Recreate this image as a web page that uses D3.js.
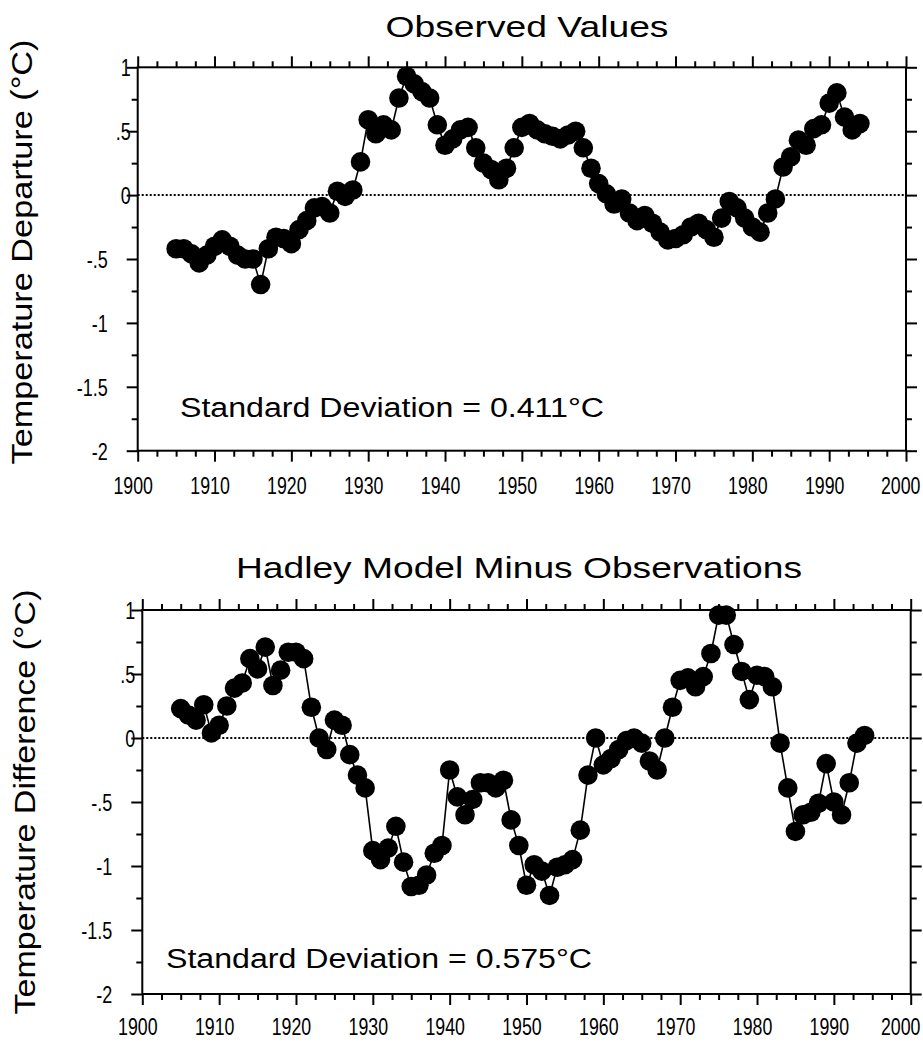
<!DOCTYPE html>
<html><head><meta charset="utf-8">
<script src="https://cdn.jsdelivr.net/npm/d3@7"></script>
<style>
html,body{margin:0;padding:0;background:#fff;}
svg{display:block;}
text{font-family:"Liberation Sans",Arial,Helvetica,sans-serif;fill:#000;}
</style></head>
<body>
<svg id="chart" width="923" height="1042"></svg>
<script>
// ---- data ----
const yearsObserved = d3.range(1905, 1995);
const observed = [
 -0.42,-0.42,-0.46,-0.53,-0.47,-0.40,-0.35,-0.40,-0.47,-0.50,
 -0.50,-0.70,-0.42,-0.33,-0.34,-0.38,-0.27,-0.20,-0.10,-0.09,
 -0.14,0.03,-0.01,0.04,0.26,0.59,0.48,0.55,0.51,0.76,
 0.93,0.87,0.81,0.76,0.55,0.39,0.44,0.51,0.53,0.37,
 0.25,0.20,0.12,0.21,0.37,0.53,0.56,0.51,0.48,0.46,
 0.44,0.47,0.50,0.37,0.21,0.09,0.01,-0.07,-0.03,-0.14,
 -0.20,-0.16,-0.22,-0.29,-0.35,-0.34,-0.31,-0.25,-0.22,-0.27,
 -0.33,-0.18,-0.05,-0.10,-0.18,-0.25,-0.29,-0.14,-0.03,0.22,
 0.30,0.43,0.39,0.52,0.55,0.72,0.80,0.61,0.51,0.56
];
const yearsDiff = d3.range(1905, 1995);
const difference = [
 0.23,0.18,0.14,0.26,0.04,0.10,0.25,0.39,0.43,0.62,
 0.54,0.71,0.41,0.53,0.67,0.67,0.62,0.24,0.00,-0.09,
 0.14,0.10,-0.13,-0.29,-0.39,-0.88,-0.95,-0.86,-0.69,-0.97,
 -1.16,-1.15,-1.07,-0.90,-0.84,-0.25,-0.46,-0.60,-0.48,-0.35,
 -0.35,-0.39,-0.33,-0.64,-0.84,-1.15,-0.99,-1.04,-1.23,-1.01,
 -0.99,-0.95,-0.72,-0.29,0.00,-0.21,-0.16,-0.09,-0.02,0.00,
 -0.04,-0.18,-0.25,0.00,0.24,0.45,0.47,0.40,0.48,0.66,
 0.96,0.96,0.73,0.52,0.30,0.49,0.48,0.40,-0.04,-0.39,
 -0.73,-0.60,-0.58,-0.51,-0.20,-0.50,-0.60,-0.35,-0.04,0.02
];
const xTickValues = d3.range(1900, 2001, 10);
const yTickValues = [1, 0.5, 0, -0.5, -1, -1.5, -2];
const yTickLabels = ["1", ".5", "0", "-.5", "-1", "-1.5", "-2"];
const titles = ["Observed Values", "Hadley Model Minus Observations"];
const yTitles = ["Temperature Departure (\u00B0C)", "Temperature Difference (\u00B0C)"];
const sdNotes = ["Standard Deviation =  0.411\u00B0C", "Standard Deviation =  0.575\u00B0C"];

const svg = d3.select("#chart");
const W = 923;
const SQUEEZE = 0.74;

function panel(cfg) {
  const x = d3.scaleLinear().domain([1900, 2000]).range([cfg.left, cfg.right]);
  const y = d3.scaleLinear().domain([-2, 1]).range([cfg.bottom, cfg.top]);
  const g = svg.append("g");

  g.append("rect").attr("x", cfg.left).attr("y", cfg.top)
    .attr("width", cfg.right - cfg.left).attr("height", cfg.bottom - cfg.top)
    .attr("fill", "none").attr("stroke", "#000").attr("stroke-width", 2);

  const minorX = d3.range(1900, 2000.1, 2.5).filter(v => v % 10 !== 0);
  const minorY = d3.range(-2, 1.01, 0.25).filter(v => Math.abs(v * 2 - Math.round(v * 2)) > 1e-6);

  function styleAxis(a) {
    a.select(".domain").remove();
    a.selectAll(".tick line").attr("stroke", "#000").attr("stroke-width", 2);
  }
  [[d3.axisBottom, cfg.bottom], [d3.axisTop, cfg.top]].forEach(([fn, pos], i) => {
    const aMaj = g.append("g").attr("transform", `translate(0,${pos})`)
      .call(fn(x).tickValues(xTickValues).tickSize(11).tickFormat(i === 0 ? d3.format("d") : ""));
    styleAxis(aMaj);
    const aMin = g.append("g").attr("transform", `translate(0,${pos})`)
      .call(fn(x).tickValues(minorX).tickSize(6).tickFormat(""));
    styleAxis(aMin);
    if (i === 0) {
      const txt = aMaj.selectAll(".tick text").attr("font-size", 24).attr("x", 0).attr("y", 0).attr("dy", 0);
      txt.each(function (d) {
        const half = this.getComputedTextLength() * SQUEEZE / 2;
        const shift = Math.min(-5, (W - 3 - half) - x(d));
        d3.select(this).attr("transform", `translate(${shift},${cfg.labelOffset}) scale(${SQUEEZE},1)`);
      });
    }
  });
  [[d3.axisLeft, cfg.left], [d3.axisRight, cfg.right]].forEach(([fn, pos], i) => {
    const aMaj = g.append("g").attr("transform", `translate(${pos},0)`)
      .call(fn(y).tickValues(yTickValues).tickSize(11)
        .tickFormat(i === 0 ? ((d, k) => yTickLabels[k]) : ""));
    styleAxis(aMaj);
    const aMin = g.append("g").attr("transform", `translate(${pos},0)`)
      .call(fn(y).tickValues(minorY).tickSize(6).tickFormat(""));
    styleAxis(aMin);
    if (i === 0) {
      aMaj.selectAll(".tick text").attr("font-size", 24).attr("dy", "0.36em").attr("x", 0)
        .attr("transform", d => `translate(${d >= 0 ? -7 : -30},0) scale(0.75,1)`);
    }
  });

  g.append("line").attr("x1", cfg.left).attr("x2", cfg.right)
    .attr("y1", y(0)).attr("y2", y(0))
    .attr("stroke", "#000").attr("stroke-width", 2).attr("stroke-dasharray", "2,2");

  const pts = cfg.years.map((yr, i) => ({ yr, v: cfg.values[i] }));
  g.append("path").datum(pts)
    .attr("d", d3.line().x(d => x(d.yr)).y(d => y(d.v)))
    .attr("fill", "none").attr("stroke", "#000").attr("stroke-width", 1.6);
  g.selectAll("circle.pt").data(pts).enter().append("circle")
    .attr("cx", d => x(d.yr)).attr("cy", d => y(d.v)).attr("r", 9.8).attr("fill", "#000");

  g.append("text").attr("x", cfg.titleX).attr("y", cfg.titleY)
    .attr("text-anchor", "middle").attr("font-size", 30).text(cfg.title)
    .attr("textLength", cfg.titleW).attr("lengthAdjust", "spacingAndGlyphs");

  g.append("text").attr("transform", `translate(${cfg.yTitleX},${cfg.yTitleY}) rotate(-90)`)
    .attr("text-anchor", "middle").attr("font-size", 29).text(cfg.yTitle)
    .attr("textLength", cfg.yTitleW).attr("lengthAdjust", "spacingAndGlyphs");

  g.append("text").attr("x", cfg.sdX).attr("y", cfg.sdY).attr("font-size", 27)
    .text(cfg.sd).attr("textLength", cfg.sdW).attr("lengthAdjust", "spacingAndGlyphs");
}

panel({
  left: 137.7, right: 906, top: 67.3, bottom: 450.7, labelOffset: 43,
  years: yearsObserved, values: observed,
  title: titles[0], titleX: 527, titleY: 37, titleW: 283,
  yTitle: yTitles[0], yTitleX: 32, yTitleY: 252, yTitleW: 425,
  sd: sdNotes[0], sdX: 180, sdY: 417, sdW: 424
});
panel({
  left: 142.3, right: 910.7, top: 610, bottom: 994, labelOffset: 41,
  years: yearsDiff, values: difference,
  title: titles[1], titleX: 519, titleY: 578, titleW: 566,
  yTitle: yTitles[1], yTitleX: 35, yTitleY: 802, yTitleW: 425,
  sd: sdNotes[1], sdX: 166, sdY: 968, sdW: 426
});
</script>
</body></html>
